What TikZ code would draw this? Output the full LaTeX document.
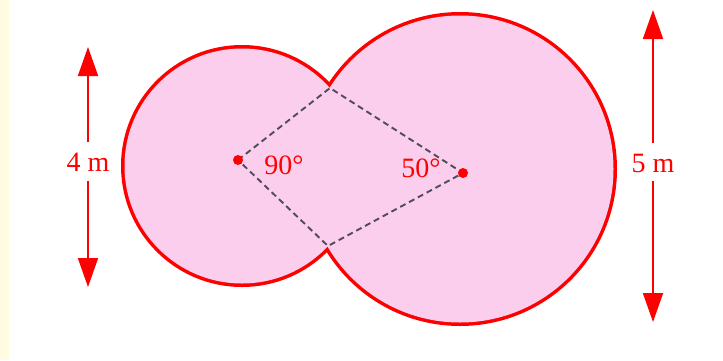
\documentclass[tikz,border=0pt]{standalone}
\usepackage{fontspec}
\setmainfont{Liberation Serif}
\usetikzlibrary{arrows.meta}
\definecolor{pinkfill}{RGB}{250,206,236}
\definecolor{stripyellow}{RGB}{255,252,226}
\definecolor{dashgray}{RGB}{80,75,90}
\begin{document}
\begin{tikzpicture}[x=1pt,y=-1pt,
  rim/.style={draw=red,line width=7pt},
  body/.style={fill=pinkfill},
  chord/.style={draw=dashgray,line width=1.9pt,dash pattern=on 6pt off 4pt},
  centre/.style={fill=red},
  lbl/.style={text=red,font=\fontsize{28}{32}\selectfont,inner sep=2pt},
  dim/.style={draw=red,line width=1.8pt,-{Triangle[width=20pt,length=29pt]}}]
\useasboundingbox (0,0) rectangle (723,360);
\fill[stripyellow] (0,0) rectangle (9,360);
% circle centres, dots and cusp points
\coordinate (o1) at (242,166);
\coordinate (o2) at (460,169);
\coordinate (c1) at (238,160);
\coordinate (c2) at (463,173);
\coordinate (ptop) at (330,88);
\coordinate (pbot) at (328,246);
% outline: doubled stroke, inner half covered by the fills
\path[rim] (o1) circle[radius=117.5];
\path[rim] (o2) circle[radius=153.5];
\path[body] (o1) circle[radius=117.5];
\path[body] (o2) circle[radius=153.5];
% dashed kite
\path[chord] (c1) -- (ptop) -- (c2) -- (pbot) -- cycle;
\path[centre] (c1) circle[radius=5];
\path[centre] (c2) circle[radius=5];
\node[lbl] (a90) at (284,165) {90°};
\node[lbl] (a50) at (421,168) {50°};
% dimension arrows
\node[lbl] (d4) at (88,162) {4 m};
\coordinate (d4t) at (88,47);
\coordinate (d4b) at (88,287);
\draw[dim] (88,142) -- (d4t);
\draw[dim] (88,181) -- (d4b);
\node[lbl] (d5) at (653,163) {5 m};
\coordinate (d5t) at (653,10);
\coordinate (d5b) at (653,322);
\draw[dim] (653,143) -- (d5t);
\draw[dim] (653,181) -- (d5b);
\end{tikzpicture}
\end{document}
